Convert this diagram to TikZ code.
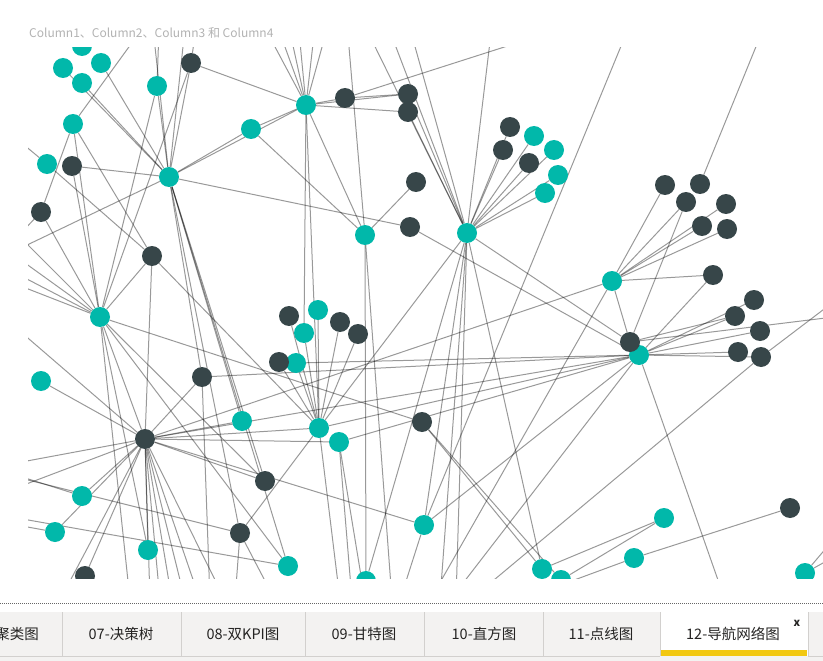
\documentclass[tikz,border=0pt]{standalone}
\usepackage{fontspec}
\newfontfamily\cjk{Noto Sans CJK SC}
\usetikzlibrary{backgrounds}

\definecolor{nodeteal}{HTML}{01B8AA}
\definecolor{nodedark}{HTML}{374649}
\definecolor{tabgray}{HTML}{F3F2F1}
\definecolor{tabline}{HTML}{D2D0CE}
\definecolor{tabyellow}{HTML}{F2C811}
\definecolor{titlegray}{HTML}{B3B3B3}
\definecolor{tabtext}{HTML}{252423}

\begin{document}
\begin{tikzpicture}[x=1pt,y=-1pt,
    tealdot/.style={circle,fill=nodeteal,minimum size=20pt,inner sep=0pt},
    darkdot/.style={circle,fill=nodedark,minimum size=20pt,inner sep=0pt},
    link/.style={draw=black,draw opacity=0.4,line width=1pt},
    tablabel/.style={font=\cjk\fontsize{14.5}{15}\selectfont,text=tabtext,inner sep=0pt}]
    \useasboundingbox (0,0) rectangle (823,661);

    % far ends of the links, outside the plot
    \coordinate (up1) at (163,0);   \coordinate (up2) at (160,0);
    \coordinate (up3) at (200,0);   \coordinate (up4) at (150,0);
    \coordinate (up5) at (188,0);   \coordinate (up6) at (250,0);
    \coordinate (up7) at (268,0);   \coordinate (up8) at (283,0);
    \coordinate (up9) at (296,0);   \coordinate (up10) at (318,0);
    \coordinate (up11) at (335,0);  \coordinate (up12) at (345,0);
    \coordinate (up13) at (352,0);  \coordinate (up14) at (378,0);
    \coordinate (up15) at (402,0);  \coordinate (up16) at (495,0);
    \coordinate (up17) at (640,0);  \coordinate (up18) at (775,0);
    \coordinate (up19) at (620,10);
    \coordinate (lf1) at (0,258);   \coordinate (lf2) at (0,125);
    \coordinate (lf3) at (0,255);   \coordinate (lf4) at (0,217);
    \coordinate (lf5) at (0,245);   \coordinate (lf6) at (0,265);
    \coordinate (lf7) at (0,278);   \coordinate (lf8) at (0,314);
    \coordinate (lf9) at (0,466);   \coordinate (lf10) at (0,494);
    \coordinate (lf11) at (0,470);  \coordinate (lf12) at (0,522);
    \coordinate (lf13) at (0,473);  \coordinate (lf14) at (0,515);
    \coordinate (bt1) at (130,600); \coordinate (bt2) at (210,600);
    \coordinate (bt3) at (235,600); \coordinate (bt4) at (275,600);
    \coordinate (bt5) at (340,600); \coordinate (bt6) at (352,600);
    \coordinate (bt7) at (365,600); \coordinate (bt8) at (400,600);
    \coordinate (bt9) at (440,600); \coordinate (bt10) at (456,600);
    \coordinate (bt11) at (430,600);\coordinate (bt12) at (470,600);
    \coordinate (bt13) at (725,600);\coordinate (bt14) at (450,600);
    \coordinate (bt15) at (520,600);\coordinate (bt16) at (150,600);
    \coordinate (bt17) at (160,600);\coordinate (bt18) at (172,600);
    \coordinate (bt19) at (185,600);\coordinate (bt20) at (200,600);
    \coordinate (bt21) at (225,600);\coordinate (bt22) at (60,600);
    \coordinate (bt23) at (392,600);
    \coordinate (rt1) at (850,315); \coordinate (rt2) at (840,297);
    \coordinate (rt3) at (850,520); \coordinate (rt4) at (850,548);

    \node[anchor=base west,font=\cjk\fontsize{12}{12}\selectfont,text=titlegray,inner sep=0pt] (title) at (29,38) {Column1、Column2、Column3 和 Column4};

    \begin{scope}
      \clip (28,48) rectangle (823,578);
      % teal nodes
      \node[tealdot] (t1) at (82,46) {};
      \node[tealdot] (t2) at (63,68) {};
      \node[tealdot] (t3) at (101,63) {};
      \node[tealdot] (t4) at (82,83) {};
      \node[tealdot] (t5) at (157,86) {};
      \node[tealdot] (t6) at (306,105) {};
      \node[tealdot] (t7) at (251,129) {};
      \node[tealdot] (t8) at (73,124) {};
      \node[tealdot] (t9) at (47,164) {};
      \node[tealdot] (t10) at (169,177) {};
      \node[tealdot] (t11) at (100,317) {};
      \node[tealdot] (t12) at (365,235) {};
      \node[tealdot] (t13) at (467,233) {};
      \node[tealdot] (t14) at (534,136) {};
      \node[tealdot] (t15) at (554,150) {};
      \node[tealdot] (t16) at (558,175) {};
      \node[tealdot] (t17) at (545,193) {};
      \node[tealdot] (t18) at (612,281) {};
      \node[tealdot] (t19) at (639,355) {};
      \node[tealdot] (t20) at (318,310) {};
      \node[tealdot] (t21) at (304,333) {};
      \node[tealdot] (t22) at (296,363) {};
      \node[tealdot] (t23) at (41,381) {};
      \node[tealdot] (t24) at (242,421) {};
      \node[tealdot] (t25) at (319,428) {};
      \node[tealdot] (t26) at (339,442) {};
      \node[tealdot] (t27) at (82,496) {};
      \node[tealdot] (t28) at (55,532) {};
      \node[tealdot] (t29) at (148,550) {};
      \node[tealdot] (t30) at (288,566) {};
      \node[tealdot] (t31) at (424,525) {};
      \node[tealdot] (t32) at (664,518) {};
      \node[tealdot] (t33) at (634,558) {};
      \node[tealdot] (t34) at (542,569) {};
      \node[tealdot] (t35) at (561,580) {};
      \node[tealdot] (t36) at (366,581) {};
      \node[tealdot] (t37) at (805,573) {};
      % dark nodes
      \node[darkdot] (d1) at (191,63) {};
      \node[darkdot] (d2) at (345,98) {};
      \node[darkdot] (d3) at (408,94) {};
      \node[darkdot] (d4) at (408,112) {};
      \node[darkdot] (d5) at (72,166) {};
      \node[darkdot] (d6) at (41,212) {};
      \node[darkdot] (d7) at (152,256) {};
      \node[darkdot] (d8) at (416,182) {};
      \node[darkdot] (d9) at (410,227) {};
      \node[darkdot] (d10) at (510,127) {};
      \node[darkdot] (d11) at (503,150) {};
      \node[darkdot] (d12) at (529,163) {};
      \node[darkdot] (d13) at (665,185) {};
      \node[darkdot] (d14) at (700,184) {};
      \node[darkdot] (d15) at (686,202) {};
      \node[darkdot] (d16) at (726,204) {};
      \node[darkdot] (d17) at (702,226) {};
      \node[darkdot] (d18) at (727,229) {};
      \node[darkdot] (d19) at (713,275) {};
      \node[darkdot] (d20) at (754,300) {};
      \node[darkdot] (d21) at (735,316) {};
      \node[darkdot] (d22) at (760,331) {};
      \node[darkdot] (d23) at (738,352) {};
      \node[darkdot] (d24) at (761,357) {};
      \node[darkdot] (d25) at (630,342) {};
      \node[darkdot] (d26) at (289,316) {};
      \node[darkdot] (d27) at (340,322) {};
      \node[darkdot] (d28) at (358,334) {};
      \node[darkdot] (d29) at (279,362) {};
      \node[darkdot] (d30) at (202,377) {};
      \node[darkdot] (d31) at (145,439) {};
      \node[darkdot] (d32) at (422,422) {};
      \node[darkdot] (d33) at (265,481) {};
      \node[darkdot] (d34) at (240,533) {};
      \node[darkdot] (d35) at (790,508) {};
      \node[darkdot] (d36) at (85,576) {};
      \node[darkdot] (d0) at (18,228) {};
    \end{scope}

    \begin{pgfonlayer}{background}
      \fill[white] (0,0) rectangle (823,661);
      \begin{scope}
        \clip (28,48) rectangle (823,578);
        \foreach \a/\b in {t2/t10, t4/t10, t3/t10, t8/up1, t8/d6, t8/d7, t8/t11, t5/t10, t5/up2, t5/t11,
            d1/t10, d1/t6, d1/up3, d1/t11, t10/up4, t10/up5, t10/t7, t7/t6, t10/t6, t10/d9, t10/d5, t10/lf1,
            t10/t24, t10/d33, t10/d34, t10/t30, d5/t11, t9/d7, d6/t11, d6/lf3, lf2/t9, d7/t11, d7/d31, d7/t25,
            t11/lf4, t11/lf5, t11/lf6, t11/lf7, t7/t12, t12/d8, t12/up12,
            t6/up6, t6/up7, t6/up8, t6/up9, t6/up10, t6/up11, t6/d2, t6/d3, t6/d4, d2/d3, d2/up19,
            t6/t21, t6/t12, t6/t25,
            up13/t13, up14/t13, up15/t13, d3/t13, d4/t13, up16/t13,
            t13/d10, t13/t14, t13/d11, t13/t15, t13/d12, t13/t16, t13/t17, t13/d25, t13/t34, t13/t36,
            t13/bt9, t13/bt10, t13/t25, t13/t31, up17/t31, up18/d14,
            t18/d13, t18/d15, t18/d16, t18/d17, t18/d18, t18/d19, d15/d25, t18/d31, t18/d25, t18/bt11,
            d19/t19, t19/d20, t19/d21, t19/d22, t19/d23, t19/d24, d25/d21, d25/rt1, d24/rt2, d24/bt12,
            t19/bt13, t19/bt14, t19/d31, t19/t22, t19/t26, t19/t25, t31/t19, d9/t19, d30/t19,
            t32/t34, t32/t35, t33/d35, t33/bt15, t37/rt3, t37/rt4, d32/t34, d32/t35,
            t11/d32, t11/d33, t11/t30, t11/t29, t11/bt1, t11/d31,
            d31/d30, d31/t23, d31/t27, d31/t28, d31/t24, d31/t25, d31/t26, d31/d33, d31/t29,
            d31/bt16, d31/bt17, d31/bt18, d31/bt19, d31/bt20, d31/bt21, d31/bt22,
            d31/lf8, d31/lf9, d31/lf10, d31/t31, d31/d36,
            d30/t10, d30/bt2, d34/t25, d34/bt3, d34/bt4, lf11/t27, lf12/t28, lf13/d34, lf14/t30,
            t25/t20, t25/t21, t25/d27, t25/d28, t25/d26, t25/t22, t25/d29, t25/bt5,
            t26/bt6, t26/bt7, t31/bt8, t12/t36, t12/bt23}
          \draw[link] (\a) -- (\b);
      \end{scope}
    \end{pgfonlayer}

    % page tabs
    \draw[black!60,line width=1pt,dash pattern=on 1pt off 1pt] (0,603) -- (823,603);
    \fill[tabgray] (0,612) rectangle (823,661);
    \fill[white] (660,612) rectangle (808,656);
    \fill[tabyellow] (661,650) rectangle (807,656);
    \draw[tabline] (0,656.5) -- (660,656.5) (808,656.5) -- (823,656.5);
    \foreach \x in {62,181,305,424,543,660,808}
      \draw[tabline] (\x,612) -- (\x,656);
    \node[tablabel] (tab06) at (17,634) {聚类图};
    \node[tablabel] (tab07) at (121,634) {07-决策树};
    \node[tablabel] (tab08) at (243,634) {08-双KPI图};
    \node[tablabel] (tab09) at (364,634) {09-甘特图};
    \node[tablabel] (tab10) at (484,634) {10-直方图};
    \node[tablabel] (tab11) at (601,634) {11-点线图};
    \node[tablabel] (tab12) at (733,634) {12-导航网络图};
    \node[font=\cjk\bfseries\fontsize{11}{11}\selectfont,text=tabtext,inner sep=0pt] (close) at (797,623) {x};
\end{tikzpicture}
\end{document}
